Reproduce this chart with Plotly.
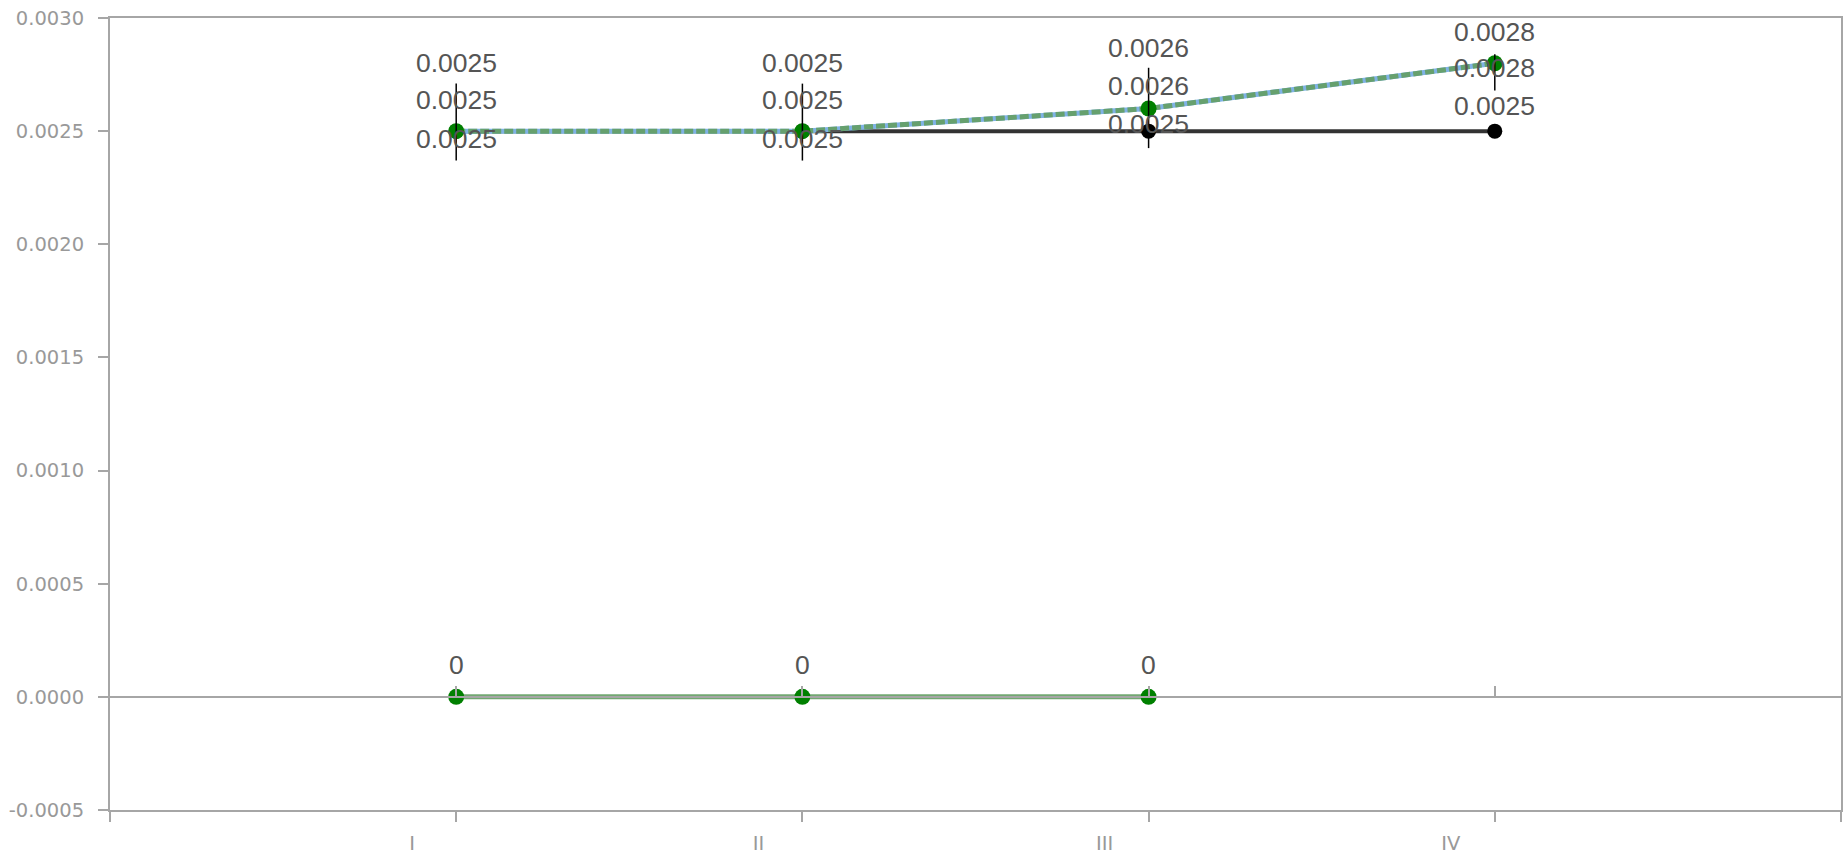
import plotly.graph_objects as go

# ---- data ----
categories = ["I", "II", "III", "IV"]
series_blue = [0.0025, 0.0025, 0.0026, 0.0028]
series_green = [0.0025, 0.0025, 0.0026, 0.0028]
series_black = [0.0025, 0.0025, 0.0025, 0.0025]
series_zero = [0, 0, 0]
err_plus = [0.00021, 0.00021, 0.00018, 0.00004]
err_minus = [0.00013, 0.00013, 0.000175, 0.00012]
y_tick_vals = [-0.0005, 0.0, 0.0005, 0.0010, 0.0015, 0.0020, 0.0025, 0.0030]
y_tick_text = ["-0.0005", "0.0000", "0.0005", "0.0010", "0.0015", "0.0020", "0.0025", "0.0030"]
y_min, y_max = -0.0005, 0.0030

# ---- label pixel offsets (style) ----
shift_blue = [68.5, 68.5, 61, 31]
shift_green = [31.5, 31.5, 23, -5]
shift_black = [-7.5, -7.5, 7, 25.5]
shift_zero = [31.5, 31.5, 31.5]

xi = list(range(len(categories)))
AX = "#a6a6a6"
TICKC = "#999999"
LBL = "#555555"

fig = go.Figure()

fig.add_trace(go.Scatter(
    x=xi, y=series_black, mode="lines+markers",
    line=dict(color="#333333", width=4),
    marker=dict(color="#000000", size=15),
))
fig.add_trace(go.Scatter(
    x=xi[:len(series_zero)], y=series_zero, mode="lines+markers",
    xaxis="x2",
    line=dict(color="#72a872", width=5),
    marker=dict(color="#008000", size=16),
))
fig.add_trace(go.Scatter(
    x=xi, y=series_blue, mode="lines",
    line=dict(color="#7fb2e5", width=5),
))
fig.add_trace(go.Scatter(
    x=xi, y=series_green, mode="lines+markers",
    line=dict(color="#66a06e", width=5, dash="9px,3px"),
    marker=dict(color="#008000", size=16),
))
fig.add_trace(go.Scatter(
    x=xi, y=series_green, mode="markers",
    marker=dict(color="rgba(0,0,0,0)", size=1),
    error_y=dict(type="data", symmetric=False, array=err_plus, arrayminus=err_minus,
                 color="#000000", thickness=1.5, width=0),
))

def fmt(v):
    return f"{v:g}"

anns = []
for vals, shifts in [(series_blue, shift_blue), (series_green, shift_green),
                     (series_black, shift_black), (series_zero, shift_zero)]:
    for i, (v, s) in enumerate(zip(vals, shifts)):
        anns.append(dict(x=xi[i], y=v, xref="x", yref="y", text=fmt(v), showarrow=False,
                         yshift=s, xanchor="center", yanchor="middle",
                         font=dict(family="Liberation Sans", size=26.5, color=LBL)))

fig.update_layout(
    width=1844, height=854,
    margin=dict(l=110, r=3, t=18, b=44),
    paper_bgcolor="white", plot_bgcolor="white",
    showlegend=False,
    annotations=anns,
    xaxis=dict(
        range=[-1, len(categories)],
        tickmode="array",
        tickvals=[-1] + xi + [len(categories)],
        ticktext=[""] + categories + [""],
        ticks="outside", ticklen=10, tickcolor=AX, tickwidth=1.5,
        showline=True, linecolor=AX, linewidth=2, mirror=True,
        showgrid=False, zeroline=False, automargin=False,
        tickfont=dict(family="DejaVu Sans", size=19.5, color=TICKC),
        ticklabelshift=-44, ticklabelstandoff=5,
    ),
    xaxis2=dict(
        overlaying="x", anchor="free",
        position=(0 - y_min) / (y_max - y_min),
        range=[-1, len(categories)],
        tickmode="array", tickvals=xi,
        ticks="inside", ticklen=10, tickcolor=AX, tickwidth=1.5,
        showline=True, linecolor=AX, linewidth=2,
        showticklabels=False, showgrid=False, zeroline=False,
    ),
    yaxis=dict(
        range=[y_min, y_max],
        tickmode="array", tickvals=y_tick_vals, ticktext=y_tick_text,
        ticks="outside", ticklen=10, tickcolor=AX, tickwidth=1.5,
        showline=True, linecolor=AX, linewidth=2, mirror=True,
        showgrid=False, zeroline=False, automargin=False,
        tickfont=dict(family="DejaVu Sans", size=19.5, color=TICKC),
        ticklabelstandoff=10,
    ),
)

fig.write_html("out.html",
               config={"displayModeBar": False},
               post_script="document.body.style.margin='0';document.body.style.padding='0';document.body.style.overflow='hidden';")
